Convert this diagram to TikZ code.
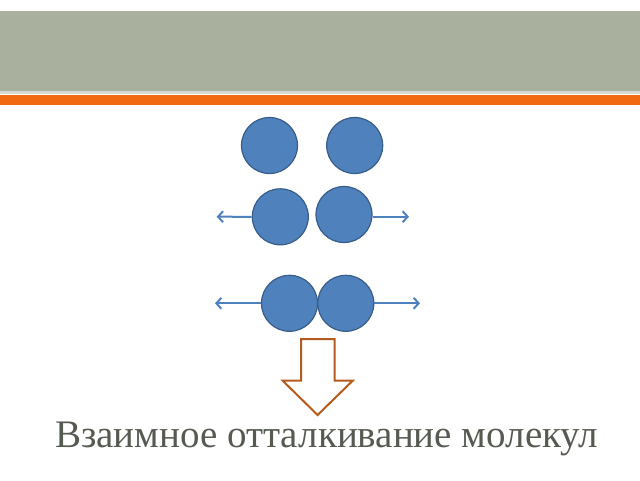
\documentclass[tikz,border=0pt]{standalone}
\usepackage{fontspec}
\setmainfont{Liberation Serif}
\usetikzlibrary{arrows.meta}
\definecolor{bandgray}{RGB}{169,176,158}
\definecolor{bandline}{RGB}{214,218,206}
\definecolor{bandorange}{RGB}{242,106,16}
\definecolor{molfill}{RGB}{79,129,189}
\definecolor{moldraw}{RGB}{56,93,138}
\definecolor{downarrow}{RGB}{182,91,31}
\definecolor{titlegray}{RGB}{86,91,82}
\tikzset{
  molecule/.style={circle,draw=moldraw,fill=molfill,line width=1.2pt,minimum size=56pt,inner sep=0pt},
  push/.style={draw=molfill,line width=2pt,-{Straight Barb[length=5pt,width=11pt]}}
}
\begin{document}
\begin{tikzpicture}[x=1pt,y=1pt,yscale=-1,xscale=1]
\useasboundingbox (0,0) rectangle (640,480);

% header bands
\fill [bandgray] (0,11) rectangle (640,91);
\fill [bandline] (0,91) rectangle (640,94);
\fill [bandorange] (0,95) rectangle (640,105);

% molecules far apart
\node [molecule] (m1) at (269.5,145.5) {};
\node [molecule] (m2) at (354.7,145.5) {};

% molecules closer
\node [molecule] (m3) at (280.3,216.8) {};
\node [molecule] (m4) at (344,214.5) {};
\coordinate (t1) at (216.7,216.7);
\coordinate (t2) at (409,216.7);
\draw [push] (m3.west) -- (t1);
\draw [push] (m4.east |- t2) -- (t2);

% molecules touching
\node [molecule] (m5) at (289.5,303.3) {};
\node [molecule] (m6) at (345.8,303.3) {};
\coordinate (t3) at (215,303.3);
\coordinate (t4) at (420,303.3);
\draw [push] (m5.west) -- (t3);
\draw [push] (m6.east) -- (t4);

% down arrow
\draw [downarrow,line width=2pt,fill=white,line join=miter]
  (301,339) -- (334.5,339) -- (334.5,380.7) -- (352.7,380.7) -- (317.6,415)
  -- (282.7,380.7) -- (301,380.7) -- cycle;

\node [anchor=base west,inner sep=0pt,text=titlegray,font=\fontsize{39}{44}\selectfont] (title) at (55,447.3) {Взаимное отталкивание молекул};

\end{tikzpicture}
\end{document}
